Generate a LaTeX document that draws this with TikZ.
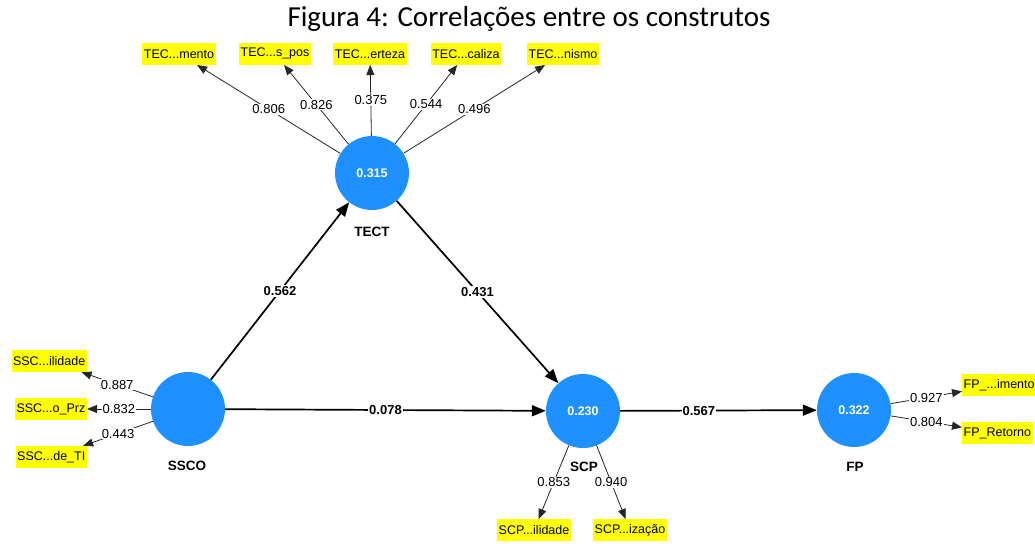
\documentclass[tikz,border=0pt]{standalone}
\usepackage{fontspec}
\setmainfont{Liberation Sans}
\newfontfamily\titlefont{Carlito}
\usetikzlibrary{arrows.meta}
\definecolor{lvblue}{RGB}{30,144,255}
\definecolor{indyellow}{RGB}{255,255,0}
\begin{document}
\begin{tikzpicture}[x=1pt,y=-1pt,
  lv/.style={circle, fill=lvblue, minimum size=74pt, inner sep=0pt, text=white, font=\bfseries\fontsize{12.5}{14}\selectfont},
  ind/.style={fill=indyellow, inner xsep=1.5pt, inner ysep=0pt, minimum height=22pt, font=\fontsize{12.5}{14}\selectfont},
  lvname/.style={font=\bfseries\fontsize{13.5}{16}\selectfont},
  structpath/.style={line width=1.7pt, -{Triangle[length=14pt,width=11pt]}},
  loadpath/.style={line width=0.8pt, draw=black!85, -{Triangle[length=10pt,width=8pt]}},
  coef/.style={fill=white, inner sep=1pt, font=\bfseries\fontsize{13}{14}\selectfont},
  loadlab/.style={fill=white, inner sep=1pt, font=\fontsize{13}{14}\selectfont}
]
\useasboundingbox (0,0) rectangle (1035,546);
\node[font=\titlefont\fontsize{29}{32}\selectfont] (title) at (529,19) {Figura 4: Correlações entre os construtos};

% latent variables
\node[lv] (tect) at (372,173) {0.315};
\node[lv] (ssco) at (188,409) {};
\node[lv] (scp) at (583,411) {0.230};
\node[lv] (fp) at (854,410) {0.322};

\node[lvname] (tectn) at (372,232) {TECT};
\node[lvname] (sscon) at (187,466) {SSCO};
\node[lvname] (scpn) at (584,467) {SCP};
\node[lvname] (fpn) at (855,467) {FP};

% indicators TECT
\node[ind, anchor=south] (t1) at (179,65) {TEC...mento};
\node[ind, anchor=south] (t2) at (275,65) {TEC...s\_pos};
\node[ind, anchor=south] (t3) at (370,65) {TEC...erteza};
\node[ind, anchor=south] (t4) at (466,65) {TEC...caliza};
\node[ind, anchor=south] (t5) at (563,65) {TEC...nismo};

% indicators SSCO
\node[ind, anchor=east] (s1) at (87,361) {SSC...ilidade};
\node[ind, anchor=east] (s2) at (87,409) {SSC...o\_Prz};
\node[ind, anchor=east] (s3) at (87,457) {SSC...de\_TI};

% indicators SCP
\node[ind, anchor=north] (c1) at (534,519) {SCP...ilidade};
\node[ind, anchor=north] (c2) at (630,519) {SCP...ização};

% indicators FP
\node[ind, anchor=west] (f1) at (962,385) {FP\_...imento};
\node[ind, anchor=west] (f2) at (962,433) {FP\_Retorno};

% loadings
\draw[loadpath] (tect) -- node[loadlab] {0.806} (t1);
\draw[loadpath] (tect) -- node[loadlab] {0.826} (t2);
\draw[loadpath] (tect) -- node[loadlab] {0.375} (t3);
\draw[loadpath] (tect) -- node[loadlab] {0.544} (t4);
\draw[loadpath] (tect) -- node[loadlab] {0.496} (t5);

\draw[loadpath] (ssco) -- node[loadlab] {0.887} (s1);
\draw[loadpath] (ssco) -- node[loadlab] {0.832} (s2);
\draw[loadpath] (ssco) -- node[loadlab] {0.443} (s3);

\draw[loadpath] (scp) -- node[loadlab] {0.853} (c1);
\draw[loadpath] (scp) -- node[loadlab] {0.940} (c2);

\draw[loadpath] (fp) -- node[loadlab] {0.927} (f1);
\draw[loadpath] (fp) -- node[loadlab] {0.804} (f2);

% structural paths
\draw[structpath] (ssco) -- node[coef] {0.562} (tect);
\draw[structpath] (tect) -- node[coef] {0.431} (scp);
\draw[structpath] (ssco) -- node[coef] {0.078} (scp);
\draw[structpath] (scp) -- node[coef, pos=0.4] {0.567} (fp);
\end{tikzpicture}
\end{document}
